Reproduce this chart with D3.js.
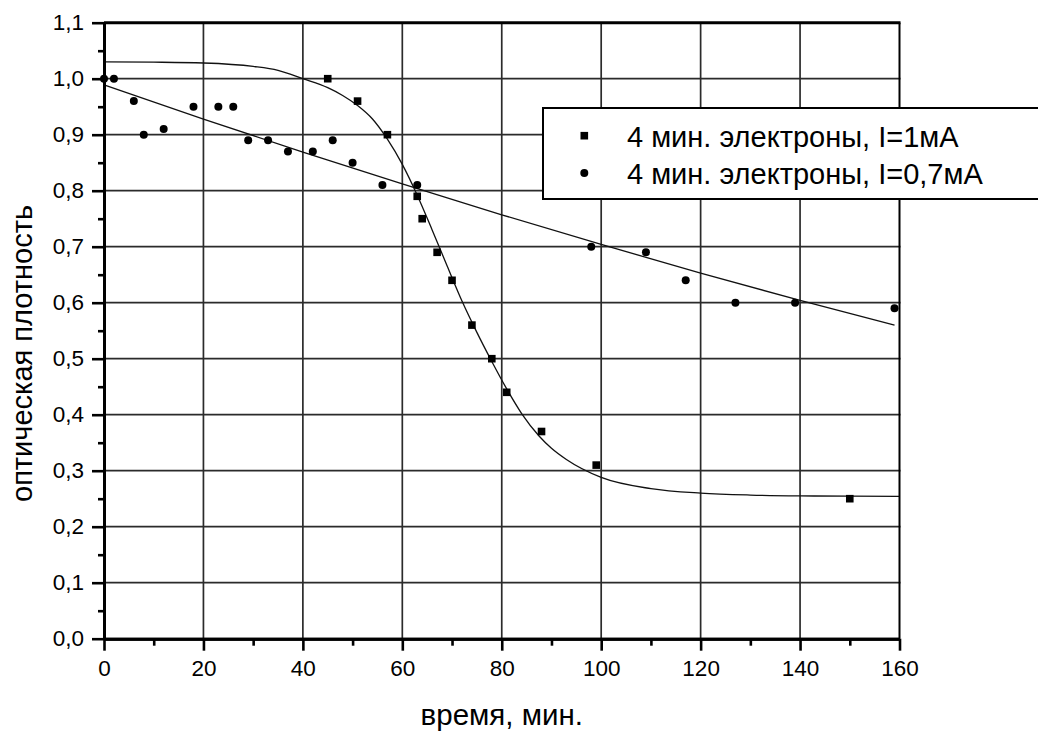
<!DOCTYPE html>
<html>
<head>
<meta charset="utf-8">
<script src="https://cdn.jsdelivr.net/npm/d3@7/dist/d3.min.js"></script>
<style>
  html, body { margin: 0; padding: 0; background: #fff; }
  svg { display: block; font-family: "Liberation Sans", Arial, sans-serif; }
</style>
</head>
<body>
<svg id="chart" width="1038" height="733"></svg>
<script>
// Measured points, 4 min electron exposure, I = 1 mA
const timeA = [45, 51, 57, 63, 64, 67, 70, 74, 78, 81, 88, 99, 150];
const densA = [1.00, 0.96, 0.90, 0.79, 0.75, 0.69, 0.64, 0.56, 0.50, 0.44, 0.37, 0.31, 0.25];

// Measured points, 4 min electron exposure, I = 0.7 mA
const timeB = [0, 2, 6, 8, 12, 18, 23, 26, 29, 33, 37, 42, 46, 50, 56, 63, 98, 109, 117, 127, 139, 159];
const densB = [1.00, 1.00, 0.96, 0.90, 0.91, 0.95, 0.95, 0.95, 0.89, 0.89, 0.87, 0.87, 0.89, 0.85, 0.81, 0.81, 0.70, 0.69, 0.64, 0.60, 0.60, 0.59];

// Sigmoidal fit curve through the 1 mA series
const fitTimeA = [0, 10, 20, 30, 35, 40, 45, 48, 51, 54, 57, 60, 63, 66, 69, 72, 75, 78, 81, 84, 87.5, 90, 93, 100, 110, 120, 130, 140, 150, 160];
const fitDensA = [1.030, 1.0295, 1.028, 1.022, 1.015, 1.000, 0.984, 0.970, 0.952, 0.928, 0.892, 0.847, 0.792, 0.730, 0.666, 0.603, 0.547, 0.495, 0.446, 0.402, 0.362, 0.340, 0.320, 0.288, 0.268, 0.260, 0.2565, 0.255, 0.2545, 0.2542];

// Slowly decaying fit curve through the 0.7 mA series
const fitTimeB = [0, 20, 40, 60, 80, 100, 120, 140, 159];
const fitDensB = [0.989, 0.928, 0.869, 0.812, 0.757, 0.704, 0.653, 0.604, 0.560];

// Axis ticks and labels
const xTicks = [0, 20, 40, 60, 80, 100, 120, 140, 160];
const xTickLabels = ["0", "20", "40", "60", "80", "100", "120", "140", "160"];
const xMinorTicks = [10, 30, 50, 70, 90, 110, 130, 150];
const yTicks = [0, 0.1, 0.2, 0.3, 0.4, 0.5, 0.6, 0.7, 0.8, 0.9, 1.0, 1.1];
const yTickLabels = ["0,0", "0,1", "0,2", "0,3", "0,4", "0,5", "0,6", "0,7", "0,8", "0,9", "1,0", "1,1"];
const yMinorTicks = [0.05, 0.15, 0.25, 0.35, 0.45, 0.55, 0.65, 0.75, 0.85, 0.95, 1.05];

const seriesNames = ["4 мин. электроны, I=1мА", "4 мин. электроны, I=0,7мА"];
const xTitle = "время, мин.";
const yTitle = "оптическая плотность";

const svg = d3.select("#chart");
const plot = { left: 104, right: 899.5, top: 22.7, bottom: 638.7 };

const x = d3.scaleLinear().domain([0, 160]).range([plot.left, plot.right]);
const y = d3.scaleLinear().domain([0, 1.1]).range([plot.bottom, plot.top]);

// Grid
const grid = svg.append("g").attr("stroke", "#2b2b2b").attr("stroke-width", 1.7);
grid.selectAll("line.gx").data(xTicks.slice(1, -1)).join("line")
  .attr("x1", d => x(d)).attr("x2", d => x(d))
  .attr("y1", plot.top).attr("y2", plot.bottom);
grid.selectAll("line.gy").data(yTicks.slice(1, -1)).join("line")
  .attr("x1", plot.left).attr("x2", plot.right + 1)
  .attr("y1", d => y(d)).attr("y2", d => y(d));

// Fit curves
const line = d3.line().x(d => x(d[0])).y(d => y(d[1])).curve(d3.curveMonotoneX);
svg.append("path")
  .datum(d3.zip(fitTimeA, fitDensA))
  .attr("d", line).attr("fill", "none").attr("stroke", "#111").attr("stroke-width", 1.3);
svg.append("path")
  .datum(d3.zip(fitTimeB, fitDensB))
  .attr("d", line).attr("fill", "none").attr("stroke", "#111").attr("stroke-width", 1.3);

// Markers
const sq = 7.6;
svg.append("g").selectAll("rect").data(d3.zip(timeA, densA)).join("rect")
  .attr("x", d => x(d[0]) - sq / 2).attr("y", d => y(d[1]) - sq / 2)
  .attr("width", sq).attr("height", sq).attr("fill", "#000");
svg.append("g").selectAll("circle").data(d3.zip(timeB, densB)).join("circle")
  .attr("cx", d => x(d[0])).attr("cy", d => y(d[1]))
  .attr("r", 4).attr("fill", "#000");

// Legend
const legend = svg.append("g");
legend.append("rect")
  .attr("x", 543).attr("y", 108).attr("width", 520).attr("height", 91)
  .attr("fill", "#fff").attr("stroke", "#000").attr("stroke-width", 2);
legend.append("rect")
  .attr("x", 584.3 - sq / 2).attr("y", 135.7 - sq / 2)
  .attr("width", sq).attr("height", sq).attr("fill", "#000");
legend.append("circle").attr("cx", 584.3).attr("cy", 173).attr("r", 4).attr("fill", "#000");
legend.selectAll("text").data(seriesNames).join("text")
  .attr("x", 627).attr("y", (d, i) => 146.5 + i * 37)
  .attr("font-size", 29).attr("fill", "#000")
  .text(d => d);

// Frame: right and top edges
svg.append("line")
  .attr("x1", plot.right).attr("x2", plot.right)
  .attr("y1", plot.top).attr("y2", 108)
  .attr("stroke", "#000").attr("stroke-width", 2);
svg.append("line")
  .attr("x1", plot.right).attr("x2", plot.right)
  .attr("y1", 199).attr("y2", plot.bottom)
  .attr("stroke", "#000").attr("stroke-width", 2);
svg.append("line")
  .attr("x1", plot.left).attr("x2", plot.right + 1)
  .attr("y1", plot.top).attr("y2", plot.top)
  .attr("stroke", "#000").attr("stroke-width", 3);

// Axes
function styleAxis(g) {
  g.select(".domain").attr("stroke", "#000").attr("stroke-width", 3);
  g.selectAll(".tick line").attr("stroke", "#000").attr("stroke-width", 2.6);
  g.selectAll(".tick text")
    .attr("font-family", "'Liberation Sans', Arial, sans-serif")
    .attr("font-size", 22.5).attr("fill", "#000");
}

const xAxis = d3.axisBottom(x).tickValues(xTicks)
  .tickFormat((d, i) => xTickLabels[i]).tickSize(12).tickSizeOuter(0).tickPadding(9);
svg.append("g").attr("transform", `translate(0,${plot.bottom})`).call(xAxis).call(styleAxis);

const xAxisMinor = d3.axisBottom(x).tickValues(xMinorTicks).tickFormat("").tickSize(7).tickSizeOuter(0);
svg.append("g").attr("transform", `translate(0,${plot.bottom})`).call(xAxisMinor).call(styleAxis);

const yAxis = d3.axisLeft(y).tickValues(yTicks)
  .tickFormat((d, i) => yTickLabels[i]).tickSize(12).tickSizeOuter(0).tickPadding(8);
svg.append("g").attr("transform", `translate(${plot.left},0)`).call(yAxis).call(styleAxis);

const yAxisMinor = d3.axisLeft(y).tickValues(yMinorTicks).tickFormat("").tickSize(6).tickSizeOuter(0);
svg.append("g").attr("transform", `translate(${plot.left},0)`).call(yAxisMinor).call(styleAxis);

// Axis titles
svg.append("text")
  .attr("x", (plot.left + plot.right) / 2).attr("y", 725)
  .attr("text-anchor", "middle").attr("font-size", 29.5).attr("fill", "#000")
  .text(xTitle);
svg.append("text")
  .attr("transform", "translate(32,502) rotate(-90)")
  .attr("text-anchor", "start").attr("font-size", 29).attr("fill", "#000")
  .text(yTitle);
</script>
</body>
</html>
